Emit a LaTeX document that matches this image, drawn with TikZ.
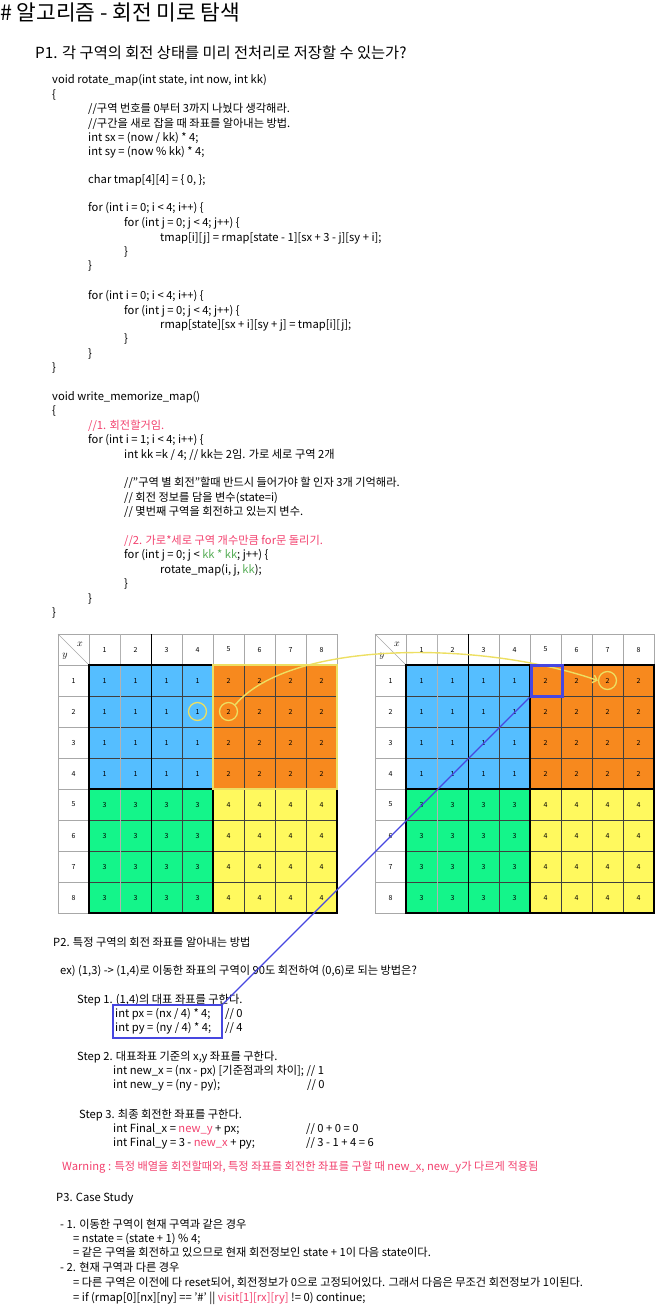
\documentclass[tikz,border=0pt]{standalone}
\usepackage{fontspec}
\setmainfont{Noto Sans CJK KR}
\usepackage{xcolor}
\usetikzlibrary{arrows.meta}
\definecolor{quad1}{HTML}{55BEFF}
\definecolor{quad2}{HTML}{F7891E}
\definecolor{quad3}{HTML}{14F58A}
\definecolor{quad4}{HTML}{FFF95E}
\definecolor{marker}{HTML}{EDDF62}
\definecolor{markblue}{HTML}{4747E0}
\definecolor{pinktext}{HTML}{F2416E}
\definecolor{greentext}{HTML}{56AD56}
\definecolor{gridgray}{HTML}{A8A8A8}

\begin{document}
\begin{tikzpicture}[x=1pt, y=-1pt,
  codeline/.style={anchor=base west, inner sep=0pt, font=\fontsize{11.2}{13}\selectfont},
  cellnum/.style={font=\fontsize{7}{8}\selectfont, inner sep=0pt},
  ringmark/.style={draw=marker, line width=1.3pt, circle, minimum size=18pt, inner sep=0pt}]

  % page frame
  \useasboundingbox (0,0) rectangle (658,1305);

  % title
  \node[anchor=base west, inner sep=0pt, font=\fontsize{21.4}{25}\selectfont] (title) at (0,21) {\# 알고리즘 - 회전 미로 탐색};
  \node[anchor=base west, inner sep=0pt, font=\fontsize{15.3}{18}\selectfont] (pone) at (35,58.5) {P1. 각 구역의 회전 상태를 미리 전처리로 저장할 수 있는가?};

  % rotate_map
  \node[codeline] (code1) at (52,84) {void rotate\_map(int state, int now, int kk)};
  \node[codeline] (code2) at (52,99) {\{};
  \node[codeline] (code3) at (88,113) {//구역 번호를 0부터 3까지 나눴다 생각해라.};
  \node[codeline] (code4) at (88,128) {//구간을 새로 잡을 때 좌표를 알아내는 방법.};
  \node[codeline] (code5) at (88,142) {int sx = (now / kk) * 4;};
  \node[codeline] (code6) at (88,156) {int sy = (now \% kk) * 4;};
  \node[codeline] (code7) at (88,184) {char tmap[4][4] = \{ 0, \};};
  \node[codeline] (code8) at (88,212) {for (int i = 0; i < 4; i++) \{};
  \node[codeline] (code9) at (124,227) {for (int j = 0; j < 4; j++) \{};
  \node[codeline] (code10) at (160,242) {tmap[i][j] = rmap[state - 1][sx + 3 - j][sy + i];};
  \node[codeline] (code11) at (124,256) {\}};
  \node[codeline] (code12) at (88,270) {\}};
  \node[codeline] (code13) at (88,300) {for (int i = 0; i < 4; i++) \{};
  \node[codeline] (code14) at (124,314) {for (int j = 0; j < 4; j++) \{};
  \node[codeline] (code15) at (160,328) {rmap[state][sx + i][sy + j] = tmap[i][j];};
  \node[codeline] (code16) at (124,342) {\}};
  \node[codeline] (code17) at (88,357) {\}};
  \node[codeline] (code18) at (52,371) {\}};

  % write_memorize_map
  \node[codeline] (code19) at (52,400) {void write\_memorize\_map()};
  \node[codeline] (code20) at (52,414) {\{};
  \node[codeline, text=pinktext] (code21) at (88,429) {//1. 회전할거임.};
  \node[codeline] (code22) at (88,443) {for (int i = 1; i < 4; i++) \{};
  \node[codeline] (code23) at (124,458) {int kk =k / 4; // kk는 2임. 가로 세로 구역 2개};
  \node[codeline] (code24) at (124,486) {//"구역 별 회전"할때 반드시 들어가야 할 인자 3개 기억해라.};
  \node[codeline] (code25) at (124,501) {// 회전 정보를 담을 변수(state=i)};
  \node[codeline] (code26) at (124,515) {// 몇번째 구역을 회전하고 있는지 변수.};
  \node[codeline, text=pinktext] (code27) at (124,544) {//2. 가로*세로 구역 개수만큼 for문 돌리기.};
  \node[codeline] (code28) at (124,558) {for (int j = 0; j < \textcolor{greentext}{kk * kk}; j++) \{};
  \node[codeline] (code29) at (160,573) {rotate\_map(i, j, \textcolor{greentext}{kk});};
  \node[codeline] (code30) at (124,587) {\}};
  \node[codeline] (code31) at (88,602) {\}};
  \node[codeline] (code32) at (52,616) {\}};

  % the two maps
  \foreach \gx in {58,375} {
    \draw[gridgray] (\gx,634) rectangle ++(31,31);
    \draw[gridgray] (\gx,634) -- ++(31,31);
    \node[font=\fontsize{10}{10}\selectfont, inner sep=0pt] at (\gx+22,644) {$x$};
    \node[font=\fontsize{10}{10}\selectfont, inner sep=0pt] at (\gx+7,656) {$y$};
    \foreach \c in {1,...,8} {
      \draw[gridgray] (\gx+31*\c,634) rectangle ++(31,31);
      \node[cellnum] at (\gx+31*\c+15.5,649.5) {\c};
    }
    \foreach \r in {1,...,8} {
      \draw[gridgray] (\gx,634+31*\r) rectangle ++(31,31);
      \node[cellnum] at (\gx+15.5,649.5+31*\r) {\r};
      \foreach \c in {1,...,8} {
        \pgfmathtruncatemacro{\q}{1+(\c>4)+2*(\r>4)}
        \filldraw[fill=quad\q, draw=black!75, line width=0.5pt] (\gx+31*\c,634+31*\r) rectangle ++(31,31);
        \node[cellnum] at (\gx+31*\c+15.5,649.5+31*\r) {\q};
      }
    }
    \draw[gray!60, line width=0.8pt] (\gx+62,634) -- (\gx+62,913);
    \draw[line width=1pt] (\gx+93,634) -- (\gx+93,913);
    % quadrant borders
    \draw[line width=1.6pt] (\gx+31,665) rectangle (\gx+279,913);
    \draw[line width=1.6pt] (\gx+155,665) -- (\gx+155,913);
    \draw[line width=1.6pt] (\gx+31,789) -- (\gx+279,789);
  }

  % marks on the maps
  \draw[marker, line width=2pt] (213,665) rectangle (337,789);
  \node[ringmark] (circA) at (197.5,711.5) {};
  \node[ringmark] (circB) at (228.5,711.5) {};
  \node[ringmark] (circC) at (607.5,680.5) {};
  \draw[marker, line width=1.4pt, -{Straight Barb[length=4pt, width=8pt]}] (circB.north east) .. controls (290,640) and (480,640) .. (circC.west);
  \node[draw=markblue, line width=3pt, minimum size=31pt, inner sep=0pt] (bluebox) at (546.5,680.5) {};

  % P2
  \node[codeline] (ptwo) at (53,946) {P2. 특정 구역의 회전 좌표를 알아내는 방법};
  \node[codeline] (exline) at (60,974) {ex) (1,3) -> (1,4)로 이동한 좌표의 구역이 90도 회전하여 (0,6)로 되는 방법은?};
  \node[codeline] (step1) at (77,1003) {Step 1. (1,4)의 대표 좌표를 구한다.};
  \node[codeline] (pxline) at (115,1017) {int px = (nx / 4) * 4;};
  \node[codeline] (pxnote) at (225,1017) {// 0};
  \node[codeline] (pyline) at (115,1031) {int py = (ny / 4) * 4;};
  \node[codeline] (pynote) at (225,1031) {// 4};
  \node[draw=markblue, line width=1.5pt, minimum width=109pt, minimum height=33pt, inner sep=0pt] (pxbox) at (167.5,1021.5) {};
  \draw[markblue, line width=1.2pt] (bluebox.south west) -- (pxbox.north east);

  \node[codeline] (step2) at (77,1060) {Step 2. 대표좌표 기준의 x,y 좌표를 구한다.};
  \node[codeline] (newx) at (113,1074) {int new\_x = (nx - px) [기준점과의 차이]; // 1};
  \node[codeline] (newy) at (113,1088) {int new\_y = (ny - py);};
  \node[codeline] (newynote) at (307,1088) {// 0};

  \node[codeline] (step3) at (79,1118) {Step 3. 최종 회전한 좌표를 구한다.};
  \node[codeline] (finx) at (113,1132) {int Final\_x = \textcolor{pinktext}{new\_y} + px;};
  \node[codeline] (finxnote) at (306,1132) {// 0 + 0 = 0};
  \node[codeline] (finy) at (113,1146) {int Final\_y = 3 - \textcolor{pinktext}{new\_x} + py;};
  \node[codeline] (finynote) at (306,1146) {// 3 - 1 + 4 = 6};
  \node[codeline, text=pinktext] (warn) at (62,1170) {Warning : 특정 배열을 회전할때와, 특정 좌표를 회전한 좌표를 구할 때 new\_x, new\_y가 다르게 적용됨};

  % P3
  \node[codeline] (pthree) at (56,1201) {P3. Case Study};
  \node[codeline] (case1) at (60,1228) {- 1. 이동한 구역이 현재 구역과 같은 경우};
  \node[codeline] (case1a) at (73,1242) {= nstate = (state + 1) \% 4;};
  \node[codeline] (case1b) at (73,1256) {= 같은 구역을 회전하고 있으므로 현재 회전정보인 state + 1이 다음 state이다.};
  \node[codeline] (case2) at (60,1271) {- 2. 현재 구역과 다른 경우};
  \node[codeline] (case2a) at (73,1286) {= 다른 구역은 이전에 다 reset되어, 회전정보가 0으로 고정되어있다. 그래서 다음은 무조건 회전정보가 1이된다.};
  \node[codeline] (case2b) at (73,1301) {= if (rmap[0][nx][ny] == '\#' || \textcolor{pinktext}{visit[1][rx][ry]} != 0) continue;};

\end{tikzpicture}
\end{document}
